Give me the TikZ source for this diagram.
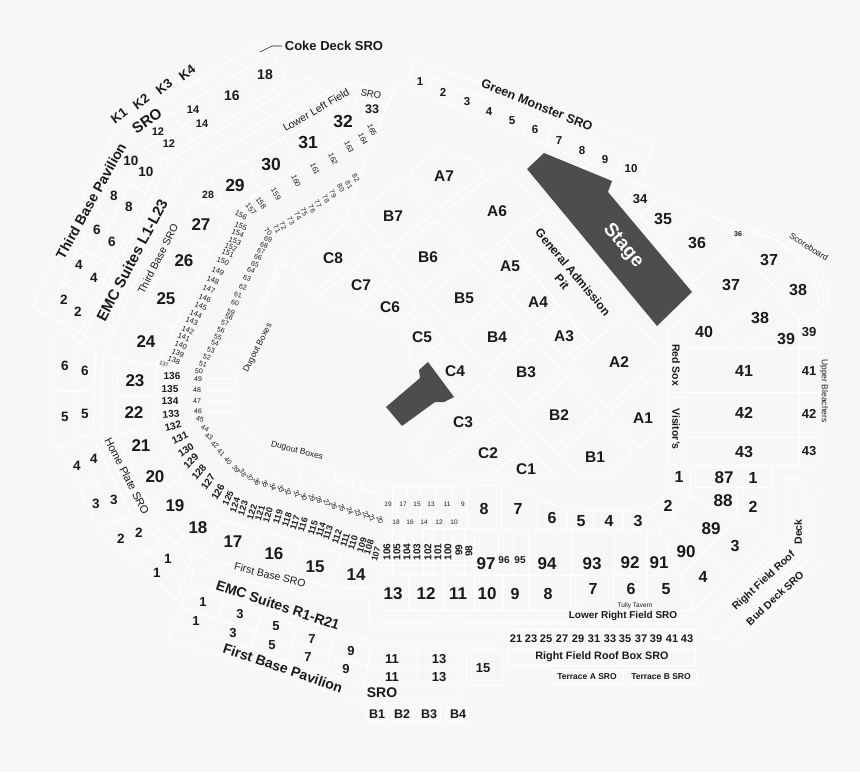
\documentclass[tikz,border=0pt]{standalone}
\usepackage{fontspec}
\setmainfont{Liberation Sans}
\definecolor{bgc}{HTML}{F7F7F7}
\definecolor{ink}{HTML}{1A1A1A}
\definecolor{stagec}{HTML}{4D4D4D}
\tikzset{
  ln/.style={draw=white,line width=0.9pt,line join=round},
  fa/.style={draw=white,line width=0.55pt},
  tb/.style={inner sep=0,text=ink,font=\bfseries},
  tr/.style={inner sep=0,text=ink}
}
\newcommand\fs[1]{\fontsize{#1}{#1}\selectfont}
% list of x/y/rot/text, bold
\newcommand\BL[2]{\foreach \xx/\yy/\rr/\tt in {#2} {\node[tb,rotate=\rr] at (\xx,\yy) {\fs{#1}\tt};}}
\newcommand\RL[2]{\foreach \xx/\yy/\rr/\tt in {#2} {\node[tr,rotate=\rr] at (\xx,\yy) {\fs{#1}\tt};}}
\begin{document}
\begin{tikzpicture}[x=1pt,y=-1pt]
\useasboundingbox (0,0) rectangle (860,772);
\fill[bgc] (0,0) rectangle (860,772);
% ---- third base pavilion
\draw[ln] (263,41)--(115,130)--(32,307)--(80,332)--(162,160)--(287,81)--(272,53)--(263,41);
\draw[ln] (272,53)--(130,138)--(47,315);
\draw[ln] (214,107)--(146,148)--(63,323);
\draw[ln] (146,148)--(162,160);
\draw[ln] (198,80)--(223,120); \draw[ln] (240,75)--(255,100); \draw[ln] (173,113)--(192,140);
\draw[ln] (115,175)--(146,193); \draw[ln] (98,212)--(128,230); \draw[ln] (78,247)--(112,265); \draw[ln] (62,282)--(95,301);
% EMC L
\draw[ln] (308,77)--(168,162)--(84,336)--(100,345)--(179,170)--(317,89)--cycle;
% third base SRO, LLF strip
\draw[ln] (392,92)--(344,83)--(183,172)--(103,356)--(160,366);
\draw[ln] (388,103)--(392,92)--(397,84);
\draw[ln] (353,97)--(245,160)--(210,178)--(195,198)--(118,358);
\draw[ln] (353,97)--(388,103)--(383,117)--(369,123)--(228,212)--(157,365)--(153,425)--(167,452)--(180,478)--(203,503)--(222,520);
\draw[ln] (397,84)--(383,117)--(363,168)--(347,217);
\draw[ln] (142,309)--(173,327); \draw[ln] (160,272)--(192,287); \draw[ln] (177,235)--(212,250);
\draw[ln] (195,198)--(228,212)--(210,178);
\draw[ln] (245,159)--(260,190); \draw[ln] (283,135)--(301,167); \draw[ln] (320,116)--(337,143); \draw[ln] (353,97)--(369,123);
% home plate boxes
\draw[ln] (118,358)--(116,435)--(132,468)--(148,504)--(177,530)--(202,558);
\draw[ln] (154,395)--(117,395); \draw[ln] (153,425)--(116,435); \draw[ln] (167,452)--(132,468); \draw[ln] (180,478)--(148,504); \draw[ln] (203,503)--(177,530); \draw[ln] (222,520)--(202,558);
\draw[ln] (103,356)--(102,440)--(140,515)--(190,553)--(202,558);
% left outer
\draw[ln] (54,340)--(63,331)--(96,353)--(93,437)--(132,515)--(188,565)--(177,600)--(99,529)--(59,448)--(54,442)--cycle;
\draw[ln] (77,342)--(77,441)--(115,520)--(182,583);
\draw[ln] (54,391)--(95,392); \draw[ln] (77,436)--(93,437); \draw[ln] (59,448)--(77,441);
\draw[ln] (79,490)--(112,476); \draw[ln] (99,529)--(132,515); \draw[ln] (136,563)--(160,542);
% first base SRO & boxes
\draw[ln] (222,520)--(382,565)--(382,610);
\draw[ln] (202,558)--(332,587)--(382,588);
\draw[ln] (260,532)--(250,568); \draw[ln] (302,543)--(292,575); \draw[ln] (340,555)--(332,587);
\draw[ln] (190,553)--(193,570)--(327,598)--(368,598)--(369,622)--(377,629)--(500,629)--(500,642)--(373,642)--(191,584)--(193,570);
\draw[ln] (369,622)--(700,623)--(785,540)--(785,480);
% pavilion bottom
\draw[ln] (187,590)--(169,639)--(362,703)--(462,703)--(462,649)--(370,649)--cycle;
\draw[ln] (180,607)--(368,667)--(462,667); \draw[ln] (175,625)--(364,685)--(462,685); \draw[ln] (370,649)--(362,703);
\draw[ln] (417,649)--(417,685);
\draw[ln] (223,602)--(213,638); \draw[ln] (261,615)--(250,650); \draw[ln] (297,627)--(287,662); \draw[ln] (334,638)--(325,673);
\draw[ln] (366,707) rectangle (387,721); \draw[ln] (392,707) rectangle (413,721); \draw[ln] (418,707) rectangle (440,721); \draw[ln] (446,707) rectangle (467,721);
\draw[ln] (466,649) rectangle (502,685);
% roof box
\draw[ln] (508,629) rectangle (695,665); \draw[ln] (508,649)--(695,649);
\foreach \xx in {523,539,554,570,586,602,617,633,648,664,680} {\draw[ln] (\xx,629)--(\xx,649);}
\draw[ln] (552,670) rectangle (623,683); \draw[ln] (626,670) rectangle (696,683);
% rows 13.. 8
\draw[ln] (382,575)--(680,576); \draw[ln] (382,610)--(694,610);
\foreach \xx in {408,444,474,503,528,570} {\draw[ln] (\xx,575)--(\xx,610);}
\foreach \xx in {613,647} {\draw[ln] (\xx,576)--(\xx,600);}
\draw[ln] (578,610)--(583,600)--(690,600);
\draw[ln] (660,530)--(680,576)--(694,610);
% rows 97.. 91
\draw[ln] (382,528)--(660,530);
\draw[ln] (382,565)--(474,565);
\foreach \xx in {392,402,413,423,433,443,453,464,474} {\draw[ln] (\xx,528)--(\xx,575);}
\foreach \xx in {498,513,528,571,614,647} {\draw[ln] (\xx,531)--(\xx,575);}
% row 8..3
\draw[ln] (383,487)--(467,486)--(507,485)--(567,510)--(640,511) .. controls (652,509) and (664,500) .. (667,485);
\foreach \xx in {392,407,420,435,452} {\draw[fa] (\xx,487)--(\xx,528);}
\draw[ln] (467,486)--(467,529); \draw[ln] (501,486)--(501,529); \draw[ln] (537,498)--(537,530);
\draw[ln] (567,510)--(567,530); \draw[ln] (593,511)--(593,530); \draw[ln] (623,511)--(623,530);
\draw[ln] (651,509)--(660,530);
% right 1,87,88,89
\draw[ln] (667,465)--(800,465); \draw[ln] (667,465)--(667,485)--(690,496)--(660,530);
\draw[ln] (690,465)--(690,496); \draw[ln] (690,487)--(772,487)--(772,465); \draw[ln] (736,465)--(736,487)--(737,520);
\draw[ln] (690,496)--(772,535)--(772,487); \draw[ln] (737,520)--(707,549)--(680,576);
\draw[ln] (672,517)--(730,574); \draw[ln] (772,535)--(694,610);
% right field roof / bud deck
\draw[ln] (790,483)--(807,483)--(807,552)--(715,640)--(702,626)--(790,543)--cycle;
\draw[ln] (813,493)--(824,493)--(824,562)--(732,647)--(723,637)--(813,555)--cycle;
% 41-43
\draw[ln] (667,333)--(686,312)--(686,465); \draw[ln] (667,333)--(667,465); \draw[ln] (667,397)--(686,397);
\draw[ln] (686,348)--(818,348); \draw[ln] (686,392)--(818,392); \draw[ln] (686,437)--(818,437);
\draw[ln] (799,318)--(799,465); \draw[ln] (799,318)--(818,310)--(818,465)--(799,465);
\draw[ln] (800,465)--(800,478)--(785,480);
% 34-40
\draw[ln] (405,86)--(638,183)--(717,218);
\draw[ln] (625,199)--(637,185); \draw[ln] (625,199)--(640,215)--(692,282)--(700,293)--(737,348)--(799,318)--(738,244)--(717,218);
\draw[ln] (640,215)--(662,196); \draw[ln] (662,244)--(697,211); \draw[ln] (692,282)--(738,244);
\draw[ln] (771,285)--(723,327); \draw[ln] (771,285)--(802,258);
\draw[ln] (700,293)--(686,312);
\draw[ln] (717,218) .. controls (765,235) and (820,250) .. (819,310);
\draw[ln] (755,227) .. controls (800,240) and (830,262) .. (828,305)--(823,307) .. controls (826,268) and (795,245) .. (752,230)--cycle;
% green monster
\draw[ln] (397,84)--(405,86); \draw[ln] (405,86)--(412,69)--(647,164)--(638,183);
\draw[ln] (412,69)--(415,60)--(655,143)--(647,162);
\draw[ln] (433,78)--(428,96); \draw[ln] (457,88)--(452,107); \draw[ln] (481,98)--(475,117); \draw[ln] (504,108)--(498,127); \draw[ln] (527,118)--(522,136); \draw[ln] (552,128)--(545,147); \draw[ln] (574,138)--(568,157); \draw[ln] (597,148)--(591,167); \draw[ln] (621,158)--(615,177);
% infield sections
\foreach \p in {
 {(410,172)--(438,150)--(474,160)--(484,173)--(440,207)},
 {(444,213)--(505,165)--(542,210)--(482,257)},
 {(486,262)--(508,243)--(531,272)--(508,289)},
 {(512,295)--(534,276)--(559,307)--(538,325)},
 {(543,333)--(565,313)--(587,341)--(565,357)},
 {(505,239)--(542,210)--(628,313)--(591,344)},
 {(569,363)--(628,313)--(665,355)--(607,407)},
 {(611,412)--(653,378)--(663,388)--(663,427)--(640,448)},
 {(359,212)--(402,179)--(432,215)--(387,249)},
 {(392,256)--(436,220)--(465,254)--(421,290)},
 {(427,298)--(471,262)--(500,296)--(456,332)},
 {(461,340)--(503,302)--(529,332)--(485,368)},
 {(489,374)--(533,338)--(562,372)--(518,408)},
 {(523,416)--(567,378)--(597,413)--(552,449)},
 {(557,455)--(602,419)--(632,454)--(605,478)--(583,478)},
 {(293,267)--(347,223)--(369,248)--(311,295)},
 {(316,299)--(373,254)--(391,276)--(350,310)},
 {(357,313)--(396,282)--(417,308)--(396,326)},
 {(401,330)--(421,313)--(443,341)--(410,366)--(409,347)},
 {(435,362)--(449,348)--(473,378)--(458,391)},
 {(412,446)--(428,433)--(427,429)--(480,385)--(501,412)--(430,469)},
 {(433,473)--(504,415)--(525,439)--(480,478)--(438,478)},
 {(488,478)--(528,445)--(556,478)}
 } {\draw[ln] \p--cycle;}
% dugout faint bands
\draw[fa] (347,217)--(284,247)--(237,373)--(232,400)--(240,420)--(263,447)--(290,458)--(383,487);
\foreach \k in {0,...,6} {\draw[fa] ({283+11*\k},{233-6.5*\k})--({293+11*\k},{248-6.5*\k});}
\foreach \k in {0,...,6} {\draw[fa] ({263+20*\k},{450+5.5*\k})--({257+20*\k},{478+5.5*\k});}
\foreach \k in {0,...,5} {\draw[fa] ({261-6*\k},{300+13*\k})--({234-6*\k},{286+13*\k});}
\foreach \yy in {378,390,401,412} {\draw[fa] (206,\yy)--(233,\yy);}
\draw[fa] (226,478)--(258,478)--(382,520);
% stage shapes
\fill[stagec] (527,169)--(544,153)--(612,181)--(608,192)--(692,292)--(657,326)--cycle;
\fill[stagec] (428,362)--(419,370)--(420,378)--(386,407)--(402,426)--(435,402)--(444,402)--(454,397)--cycle;
% leader for Coke Deck
\draw[ink,line width=0.6pt] (260,52)--(272,46)--(282,46);
% ---- text
\node[tb] at (334,46) {\fs{13}Coke Deck SRO};
\BL{13}{119/116/37/K1,141/102/37/K2,164/87/37/K3,187/73/37/K4}
\BL{12.5}{377/714/0/B1,402/714/0/B2,429/714/0/B3,458/714/0/B4}
\BL{15}{147/121/35/SRO}
\BL{14}{382/693/0/SRO}
\BL{14}{91/201/61/Third Base Pavilion}
\BL{15}{132/260/62/EMC Suites L1-L23}
\RL{10.5}{158/259/63/Third Base SRO}
\BL{11}{158/132/0/12,169/144/0/12,193/110/0/14,202/124/0/14}
\BL{13.5}{131/161/0/10,146/172/0/10,114/196/0/8,129/207/0/8,97/230/0/6,112/242/0/6,79/265/0/4,94/278/0/4,64/300/0/2,78/312/0/2,65/366/0/6,85/371/0/6,65/417/0/5,85/414/0/5,77/466/0/4,94/459/0/4,96/504/0/3,114/500/0/3,121/539/0/2,139/533/0/2,157/573/0/1,168/559/0/1}
\BL{14}{232/96/0/16,265/75/0/18}
\BL{10.5}{208/195/0/28}
\BL{17}{201/225/0/27,184/261/0/26,166/299/0/25,146/342/0/24,135/381/0/23,134/413/0/22,141/446/0/21,155/477/0/20,175/506/0/19,198/528/0/18,233/542/0/17,274/554/0/16,315/567/0/15,356/575/0/14}
\BL{17.5}{235/185/0/29,271/164/0/30,308/142/0/31,343/121/0/32}
\BL{12.5}{372/109/0/33}
\RL{9.5}{371/94/-12/SRO}
\RL{10.5}{316/110/30/Lower Left Field}
% upper band small numbers
\RL{7.5}{372/130/-65/165,363/139/-65/164,349/147/-65/163,333/159/-65/162,315/169/-65/161,296/181/-65/160,276/194/-60/159,261/203/-55/158,251/209/-50/157,241/215/-28/156,241/226/-22/155,238/233/-22/154,235/241/-22/153,231/247/-22/152,228/253/-22/151,223/261/-22/150,218/271/-22/149,213/280/-22/148,209/289/-22/147,205/298/-22/146,201/306/-22/145,196/314/-22/144,192/321/-22/143,188/330/-22/142,184/337/-22/141,181/345/-22/140,178/353/-22/139,174/360/-22/138}
\RL{5.5}{164/364/-15/137}
\BL{10}{172/376/0/136,170/389/0/135,170/401/0/134,171/414/5/133,173/426/15/132,180/438/25/131,186/450/35/130,191/461/45/129,199/472/50/128,208/482/55/127,218/492/60/126}
\BL{9}{228/498/65/125,235/505/72/124,243/508/72/123,252/512/72/122,260/513/72/121,268/515/72/120,278/517/72/119,287/520/72/118,295/523/72/117,303/525/72/116,313/528/72/115,321/530/72/114,328/533/72/113,337/537/72/112,345/540/72/111,353/543/72/110,362/545/72/109,369/547/72/108}
\BL{8.5}{376/554/75/107}
\BL{10}{387/552/90/106,397/552/90/105,407/552/90/104,417/552/90/103,428/552/90/102,438/552/90/101,448/552/90/100,459/550/90/99,469/551/90/98}
\RL{7}{356/178/-60/82,349/185/-60/81,341/188/-60/80,333/194/-60/79,326/199/-60/78,318/204/-60/77,312/209/-60/76,304/212/-60/75,298/216/-60/74,291/221/-60/73,283/226/-60/72,277/229/-60/71,268/232/-45/70,268/239/-18/69,264/245/-18/68,261/251/-18/67,258/257/-18/66,255/264/-18/65,251/270/-18/64,247/278/-18/63,243/287/-15/62,238/295/-10/61,235/303/-10/60,231/312/-15/59,229/317/-15/58,225/323/-15/57,221/330/-15/56,218/337/-15/55,215/343/-15/54,211/350/-15/53,207/357/-15/52,203/364/-15/51,199/371/-5/50,198/379/0/49,197/390/0/48,197/401/0/47,198/411/-5/46,200/419/-15/45,205/428/-30/44,209/437/-35/43,215/445/-40/42,221/453/-45/41,228/461/-50/40,236/469/-55/39,243/473/-60/38,250/478/-68/37,257/482/-70/36,265/484/-70/35,273/487/-70/34,281/489/-70/33,288/492/-70/32,297/494/-70/31,304/497/-70/30,312/498/-70/29,319/500/-70/28,327/503/-70/27,334/506/-70/26,342/508/-70/25,350/511/-70/24,358/513/-70/23,366/515/-70/22,372/518/-70/21,380/520/-70/20}
\RL{6.5}{388/504/0/19,403/504/0/17,417/504/0/15,431/504/0/13,447/504/0/11,463/504/0/9,396/522/0/18,410/522/0/16,424/522/0/14,439/522/0/12,454/522/0/10}
\RL{8.5}{258/348/63/Dugout Boxes,297/451/-15/Dugout Boxes}
\node[inner sep=0,text=white,rotate=-17,font=\bfseries] at (356,485) {\fs{12}Red Sox};
\node[inner sep=0,text=white,rotate=65,font=\bfseries] at (273,283) {\fs{12}Visitor's};
\RL{11}{127/476/-63/Home Plate SRO}
\RL{10.5}{270/575/-14/First Base SRO}
\BL{16}{484/509/0/8,518/509/0/7,552/518/0/6,581/521/0/5,609/521/0/4,638/521/0/3,668/506/0/2,753/507/0/2,679/477/0/1,753/478/0/1,735/546/0/3,703/577/0/4,666/589/0/5,631/589/0/6,593/589/0/7,548/594/0/8,515/594/0/9}
\BL{17}{487/594/0/10,458/594/0/11,426/594/0/12,393/594/0/13,547/564/0/94,592/564/0/93,630/563/0/92,659/563/0/91,686/552/0/90,711/529/0/89,723/501/0/88,724/478/0/87,486/564/0/97}
\BL{16}{731/285/0/37,769/260/0/37,760/318/0/38,798/290/0/38,786/339/0/39,704/332/0/40,663/219/0/35,697/243/0/36,744/371/0/41,744/413/0/42,744/452/0/43}
\BL{10}{504/560/0/96,520/560/0/95}
\RL{6.5}{635/606/0/Tully Tavern}
\BL{10}{623/616/0/Lower Right Field SRO}
\BL{10.8}{602/657/0/Right Field Roof Box SRO}
\BL{11}{516/639/0/21,531/639/0/23,546/639/0/25,562/639/0/27,578/639/0/29,594/639/0/31,610/639/0/33,625/639/0/35,641/639/0/37,656/639/0/39,672/639/0/41,687/639/0/43}
\BL{8.5}{587/677/0/Terrace A SRO,661/677/0/Terrace B SRO}
\BL{13}{483/668/0/15,640/199/0/34,809/332/0/39,809/371/0/41,809/414/0/42,809/451/0/43}
\BL{10.5}{764/581/43/Right Field Roof,775/598/43/Bud Deck SRO,798/532/90/Deck}
\BL{14}{278/605/-18.5/EMC Suites R1-R21,283/668/-19/First Base Pavilion}
\BL{13}{203/602/0/1,240/614/0/3,276/626/0/5,312/639/0/7,351/651/0/9,196/621/0/1,233/633/0/3,272/645/0/5,308/657/0/7,346/669/0/9,392/659/0/11,439/659/0/13,392/677/0/11,439/677/0/13}
\BL{15.5}{444/176/0/A7,497/211/0/A6,510/266/0/A5,538/302/0/A4,564/336/0/A3,619/362/0/A2,643/418/0/A1,393/216/0/B7,428/257/0/B6,464/298/0/B5,497/337/0/B4,526/372/0/B3,559/415/0/B2,595/457/0/B1,333/258/0/C8,361/285/0/C7,390/307/0/C6,422/337/0/C5,455/371/0/C4,463/422/0/C3,488/453/0/C2,526/469/0/C1}
\BL{12}{573/272/-50/General Admission,562/282/-50/Pit}
\node[inner sep=0,text=white,rotate=-50,font=\bfseries] at (623,246) {\fs{19}Stage};
\BL{12.5}{537/105/-22/Green Monster SRO}
\BL{11.5}{420/82/0/1,443/92/0/2,467/102/0/3,489/112/0/4,512/121/0/5,535/130/0/6,559/141/0/7,582/151/0/8,605/160/0/9,631/169/0/10}
\BL{7}{738/234/0/36}
\BL{10.5}{676/365/-90/Red Sox,676/429/-90/Visitor's}
\RL{8.5}{824/391/-90/Upper Bleachers,809/247/-33/Scoreboard}
\end{tikzpicture}
\end{document}
